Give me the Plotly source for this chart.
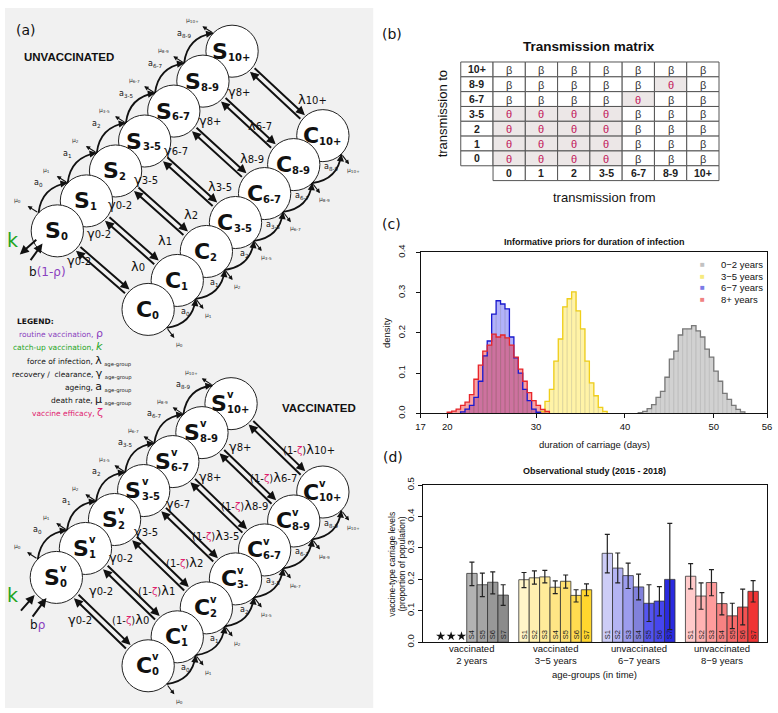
import math
import plotly.graph_objects as go

W, H = 778, 713

# ---------------- DATA ----------------
# (a) compartment model labels
ages = ["0", "1", "2", "3-5", "6-7", "8-9", "10+"]
ages_cv = ["0", "1", "2", "3-", "6-7", "8-9", "10+"]
ageing_subs = ["0", "1", "2", "3-5", "6-7", "8-9"]
gamma_subs = ["0-2", "0-2", "0-2", "3-5", "6-7", "8+", "8+"]
lambda_subs = ["0", "1", "2", "3-5", "8-9", "6-7", "10+"]

# (b) transmission matrix
row_ages = ["10+", "8-9", "6-7", "3-5", "2", "1", "0"]
col_ages = ["0", "1", "2", "3-5", "6-7", "8-9", "10+"]
matrix = [
    ["β", "β", "β", "β", "β", "β", "β"],
    ["β", "β", "β", "β", "β", "θ", "β"],
    ["β", "β", "β", "β", "θ", "β", "β"],
    ["θ", "θ", "θ", "θ", "β", "β", "β"],
    ["θ", "θ", "θ", "θ", "β", "β", "β"],
    ["θ", "θ", "θ", "θ", "β", "β", "β"],
    ["θ", "θ", "θ", "θ", "β", "β", "β"],
]

# (c) informative priors (density per 0.5-day bin)
bin_width = 0.5
prior_labels = ["0−2 years", "3−5 years", "6−7 years", "8+ years"]
gray_start = 41.5
gray_density = [0.002, 0.005, 0.012, 0.022, 0.040, 0.055, 0.090, 0.135, 0.155, 0.195, 0.210, 0.210,
                0.218, 0.205, 0.190, 0.160, 0.140, 0.105, 0.080, 0.050, 0.035, 0.020, 0.010, 0.004]
yellow_start = 30.5
yellow_density = [0.005, 0.030, 0.060, 0.130, 0.185, 0.265, 0.285, 0.302, 0.255, 0.210, 0.130,
                  0.076, 0.044, 0.015, 0.005]
blue_start = 21.5
blue_density = [0.004, 0.011, 0.020, 0.040, 0.080, 0.143, 0.180, 0.247, 0.280, 0.272, 0.260, 0.190,
                0.138, 0.100, 0.060, 0.032, 0.011, 0.003]
red_start = 20.0
red_density = [0.003, 0.006, 0.011, 0.020, 0.028, 0.047, 0.085, 0.120, 0.155, 0.170, 0.197, 0.190,
               0.195, 0.188, 0.170, 0.140, 0.110, 0.080, 0.052, 0.032, 0.020, 0.010, 0.005]

# (d) observational study
group_labels = ["vaccinated<br>2 years", "vaccinated<br>3−5 years",
                "unvaccinated<br>6−7 years", "unvaccinated<br>8−9 years"]
survey_labels = ["S1", "S2", "S3", "S4", "S5", "S6", "S7"]
carriage = [
    [None, None, None, 0.219, 0.183, 0.191, 0.150],
    [0.199, 0.205, 0.208, 0.175, 0.194, 0.149, 0.167],
    [0.283, 0.236, 0.212, 0.176, 0.124, 0.131, 0.200],
    [0.210, 0.147, 0.190, 0.123, 0.084, 0.112, 0.162],
]
ci_low = [
    [None, None, None, 0.180, 0.145, 0.154, 0.117],
    [0.174, 0.185, 0.189, 0.155, 0.172, 0.128, 0.148],
    [0.221, 0.189, 0.171, 0.135, 0.066, 0.084, 0.040],
    [0.170, 0.105, 0.148, 0.087, 0.043, 0.055, 0.128],
]
ci_high = [
    [None, None, None, 0.255, 0.220, 0.224, 0.183],
    [0.222, 0.227, 0.229, 0.195, 0.214, 0.167, 0.186],
    [0.343, 0.284, 0.252, 0.217, 0.183, 0.177, 0.378],
    [0.250, 0.189, 0.231, 0.158, 0.124, 0.169, 0.196],
]
bar_colors = [
    ["#d9d9d9", "#cccccc", "#bfbfbf", "#b2b2b2", "#a5a5a5", "#989898", "#8b8b8b"],
    ["#fff5c8", "#fff0b0", "#ffeb9a", "#ffe585", "#ffe070", "#ffdb50", "#ffd62e"],
    ["#cdcdf7", "#b4b4f3", "#9c9cee", "#8181dc", "#5555f0", "#4646ee", "#2a2ae0"],
    ["#ffcaca", "#ffb3b3", "#ff9c9c", "#f78282", "#f76a6a", "#f45252", "#f03434"],
]

# ---------------- helpers ----------------
DF = "DejaVu Sans"
RF = "Liberation Sans"
shapes, annots = [], []


def X(x):
    return x / W


def Y(y):
    return 1 - y / H


def unit(vx, vy):
    l = math.hypot(vx, vy)
    return vx / l, vy / l


def text(x, y, s, size=10, color="#111", family=DF, xanchor="center", yanchor="middle", angle=0,
         xref="paper"):
    annots.append(dict(x=X(x) if xref == "paper" else x, y=Y(y), xref=xref, yref="paper", text=s,
                       showarrow=False, font=dict(size=size, color=color, family=family),
                       xanchor=xanchor, yanchor=yanchor, textangle=angle))


def arrow(x0, y0, x1, y1, width=1.8, size=1.0, head=2, color="#111"):
    annots.append(dict(x=X(x1), y=Y(y1), xref="paper", yref="paper", ax=x0 - x1, ay=y0 - y1,
                       axref="pixel", ayref="pixel", text="", showarrow=True, arrowhead=head,
                       arrowsize=size, arrowwidth=width, arrowcolor=color, standoff=0,
                       startstandoff=0))


def circle(cx, cy, r=26.5):
    shapes.append(dict(type="circle", xref="paper", yref="paper", x0=X(cx - r), x1=X(cx + r),
                       y0=Y(cy + r), y1=Y(cy - r), line=dict(color="#222", width=1),
                       fillcolor="white", layer="above"))


def curve(p0, c, p1, width=1.8):
    shapes.append(dict(type="path", xref="paper", yref="paper",
                       path=f"M {X(p0[0])},{Y(p0[1])} Q {X(c[0])},{Y(c[1])} {X(p1[0])},{Y(p1[1])}",
                       line=dict(color="#111", width=width), layer="above"))


def rect(x0, y0, x1, y1, fill="white", line="#555", width=1, layer="above"):
    shapes.append(dict(type="rect", xref="paper", yref="paper", x0=X(x0), x1=X(x1), y0=Y(y1),
                       y1=Y(y0), fillcolor=fill, line=dict(color=line, width=width), layer=layer))


def comp_label(cx, cy, letter, sub, vacc):
    lw = 15.8 if letter == "S" else 16.2
    sw = sum(7.0 if ch.isdigit() else (4.2 if ch == "-" else 8.4) for ch in sub)
    tw = lw + max(sw, 7 if vacc else 0)
    xr = cx - tw / 2 + lw
    text(xr + 1, cy, f"<b>{letter}</b>", size=22, xanchor="right")
    text(xr - 2.5, cy + 6, f"<b>{sub}</b>", size=10, xanchor="left")
    if vacc:
        text(xr - 2.5, cy - 9, "<b>v</b>", size=10, xanchor="left")


# ---------------- (a) diagram ----------------
rect(0, 0, 373, 713, fill="#f1f1f1", line="rgba(0,0,0,0)", width=0, layer="below")

R = 26.5


def chain(P, kind):
    d = unit(P[1][0] - P[0][0], P[1][1] - P[0][1])
    if kind == "S":
        n = (d[1], -d[0])   # up-left
        ang, mu_dist = 12, 25
    else:
        n = (-d[1], d[0])   # down-right
        ang, mu_dist = 8, 21
    Q = [(p[0] + R * n[0], p[1] + R * n[1]) for p in P]
    for i in range(6):
        st, en = Q[i], Q[i + 1]
        mid = ((st[0] + en[0]) / 2, (st[1] + en[1]) / 2)
        ctrl = (mid[0] + 16 * n[0], mid[1] + 16 * n[1])
        curve(st, ctrl, en)
        t = unit(en[0] - ctrl[0], en[1] - ctrl[1])
        arrow(en[0] - 5 * t[0], en[1] - 5 * t[1], en[0], en[1], width=1.6, size=0.9)
        if kind == "S":
            lab = (mid[0] + 21 * n[0], mid[1] + 21 * n[1])
        else:
            lab = (mid[0] + 4 * d[0] + 2 * n[0], mid[1] + 4 * d[1] + 2 * n[1])
        text(lab[0], lab[1], f"a<sub>{ageing_subs[i]}</sub>", size=8)
    ca, sa = math.cos(math.radians(ang)), math.sin(math.radians(ang))
    rot = (ca * n[0] - sa * d[0], ca * n[1] - sa * d[1])
    for j in range(7):
        base = Q[j]
        tip = (base[0] + 13 * rot[0], base[1] + 13 * rot[1])
        arrow(base[0], base[1], tip[0], tip[1], width=1.1, size=0.8)
        text(base[0] + mu_dist * rot[0], base[1] + mu_dist * rot[1], f"μ<sub>{ages[j]}</sub>",
             size=6, color="#333")


def block(S0, Sstep, C0, Cstep, vacc, gpos, lpos):
    S = [(S0[0] + i * Sstep[0], S0[1] + i * Sstep[1]) for i in range(7)]
    C = [(C0[0] + i * Cstep[0], C0[1] + i * Cstep[1]) for i in range(7)]
    for i in range(6, -1, -1):
        circle(*S[i])
    for i in range(6, -1, -1):
        circle(*C[i])
    for i in range(7):
        ux, uy = unit(C[i][0] - S[i][0], C[i][1] - S[i][1])
        qx, qy = uy, -ux
        o = 2.8
        a = (S[i][0] + (R + 1) * ux, S[i][1] + (R + 1) * uy)
        b = (C[i][0] - (R + 1) * ux, C[i][1] - (R + 1) * uy)
        arrow(a[0] + o * qx, a[1] + o * qy, b[0] + o * qx, b[1] + o * qy, width=2, size=0.9)
        arrow(b[0] - o * qx, b[1] - o * qy, a[0] - o * qx, a[1] - o * qy, width=2, size=0.9)
    chain(S, "S")
    chain(C, "C")
    for i in range(7):
        comp_label(S[i][0], S[i][1], "S", ages[i], vacc)
        comp_label(C[i][0], C[i][1], "C", (ages_cv if vacc else ages)[i], vacc)
    for i in range(7):
        text(gpos[i][0], gpos[i][1], f"γ<span style='font-size:10px'>{gamma_subs[i]}</span>", size=13)
        lam = f"λ<span style='font-size:10px'>{lambda_subs[i]}</span>"
        if vacc:
            lam = "<span style='font-size:10px'>(1-<span style='color:#e0206e'>ζ</span>)</span>" + lam
        text(lpos[i][0], lpos[i][1], lam, size=13)


block((53, 227), (29.5, -30.5), (145, 307), (29.5, -29.5), False,
      [(75, 257), (95, 230), (117, 200), (143, 175), (173, 145), (208, 115), (237, 85)],
      [(135, 263), (162, 237), (188, 210), (218, 182), (250, 153), (258, 120), (312, 93)])
block((52, 580), (29.5, -29.5), (145, 670), (29.5, -29.5), True,
      [(76, 623), (97, 593), (118, 560), (143, 533), (175, 505), (208, 477), (238, 447)],
      [(127, 623), (153, 593), (182, 565), (213, 537), (243, 507), (272, 478), (308, 450)])

text(65, 50, "<b>UNVACCINATED</b>", size=11.5, family=RF)
text(318, 407, "<b>VACCINATED</b>", size=11.5, family=RF)

# vaccination arrows
arrow(33, 235, 15, 251, width=2, size=0.9)
arrow(25, 258, 38, 240, width=2, size=0.9)
text(8, 236, "k", size=19, color="#1fa51f")
text(43, 269, "b<span style='color:#8b3fbf'>(1-ρ)</span>", size=12)
arrow(15, 615, 30, 598, width=2, size=0.9)
arrow(27, 621, 42, 601, width=2, size=0.9)
text(8, 598, "k", size=19, color="#1fa51f")
text(33, 628, "b<span style='color:#8b3fbf'>ρ</span>", size=12)

# legend
text(10, 319, "<b>LEGEND:</b>", size=7.5, xanchor="left")
text(101, 332, "routine vaccination, <span style='font-size:11px'>ρ</span>", size=7.5,
     color="#8b3fbf", xanchor="right")
text(101, 345, "catch-up vaccination, <span style='font-size:11px'><i>k</i></span>", size=7.5,
     color="#1fa51f", xanchor="right")
text(131, 360, "force of infection, <span style='font-size:11px'>λ</span> <sub>age-group</sub>",
     size=7.5, xanchor="right")
text(131, 373, "recovery /  clearance, <span style='font-size:11px'>γ</span> <sub>age-group</sub>",
     size=7.5, xanchor="right")
text(131, 386, "ageing, <span style='font-size:11px'>a</span> <sub>age-group</sub>",
     size=7.5, xanchor="right")
text(131, 399, "death rate, <span style='font-size:11px'>μ</span> <sub>age-group</sub>",
     size=7.5, xanchor="right")
text(101, 412, "vaccine efficacy, <span style='font-size:11px'>ζ</span>", size=7.5,
     color="#e0206e", xanchor="right")

# panel letters
text(21, 22, "(a)", size=14)
text(392, 26, "(b)", size=14)
text(392, 220, "(c)", size=14)
text(393, 457, "(d)", size=14)

# ---------------- (b) table ----------------
tx0, cw, ty0, rh = 461.7, 32.7, 55.0, 15.1
for ri, rl in enumerate(row_ages):
    y0 = ty0 + ri * rh
    rect(tx0, y0, tx0 + cw, y0 + rh)
    text(tx0 + cw / 2, y0 + rh / 2, f"<b>{rl}</b>", size=10.5, family=RF, color="#222")
    for ci in range(len(col_ages)):
        x0 = tx0 + (ci + 1) * cw
        sym = matrix[ri][ci]
        rect(x0, y0, x0 + cw, y0 + rh, fill="#ece7e7" if sym == "θ" else "white")
        text(x0 + cw / 2, y0 + rh / 2 + 0.5, sym, size=11, family=RF,
             color="#c2185b" if sym == "θ" else "#333")
yb = ty0 + len(row_ages) * rh
for ci, cl in enumerate(col_ages):
    x0 = tx0 + (ci + 1) * cw
    rect(x0, yb, x0 + cw, yb + rh)
    text(x0 + cw / 2, yb + rh / 2, f"<b>{cl}</b>", size=10.5, family=RF, color="#222")
text(592, 39, "<b>Transmission matrix</b>", size=13.5, family=RF)
text(443, 108, "transmission to", size=13, family=RF, angle=-90)
text(607, 193, "transmission from", size=13, family=RF)

# ---------------- (c) histograms ----------------
fig = go.Figure()
hist_specs = [
    (gray_start, gray_density, "rgba(185,185,185,0.65)", "#7a7a7a"),
    (yellow_start, yellow_density, "rgba(255,228,60,0.45)", "#f0cf1a"),
    (blue_start, blue_density, "rgba(20,20,240,0.33)", "#1a1ad0"),
    (red_start, red_density, "rgba(250,10,10,0.38)", "#e8262b"),
]
for start, dens, fill, edge in hist_specs:
    centers = [start + bin_width * (k + 0.5) for k in range(len(dens))]
    fig.add_trace(go.Bar(x=centers, y=dens, width=bin_width, xaxis="x", yaxis="y",
                         marker=dict(color=fill, line=dict(color="rgba(120,120,120,0.25)", width=0.6)),
                         showlegend=False, hoverinfo="skip"))
for start, dens, fill, edge in hist_specs:
    xs = [start, start] + [start + bin_width * k for k in range(1, len(dens))] + [start + bin_width * len(dens)]
    ys = [0] + list(dens) + [0]
    fig.add_trace(go.Scatter(x=xs, y=ys, mode="lines", line=dict(shape="hv", color=edge, width=1.3),
                             xaxis="x", yaxis="y", showlegend=False, hoverinfo="skip"))

legend_cols = ["#c2c2c2", "#f6ea7e", "#7b7be6", "#f08282"]
for k, (lab, col) in enumerate(zip(prior_labels, legend_cols)):
    yy = 261 + 12 * k
    text(707, yy, "■", size=8, color=col, family=RF)
    text(723, yy, lab, size=9.5, family=RF, xanchor="left", color="#111")

text(597, 238, "<b>Informative priors for duration of infection</b>", size=9, family=RF)
text(387, 331, "density", size=9.5, family=RF, angle=-90)
text(597, 445, "duration of carriage (days)", size=9.5, family=RF)

# ---------------- (d) bars ----------------
for g in range(4):
    xs, ys, up, dn, cols, labs = [], [], [], [], [], []
    for j in range(7):
        v = carriage[g][j]
        if v is None:
            continue
        xs.append(g * 8 + j)
        ys.append(v)
        up.append(ci_high[g][j] - v)
        dn.append(v - ci_low[g][j])
        cols.append(bar_colors[g][j])
        labs.append(survey_labels[j])
    fig.add_trace(go.Bar(x=xs, y=ys, width=1.0, xaxis="x2", yaxis="y2",
                         marker=dict(color=cols, line=dict(color="#333", width=0.8)),
                         text=labs, textposition="inside", insidetextanchor="start", textangle=-90,
                         constraintext="none",
                         textfont=dict(size=7.5, color="#222", family=RF),
                         error_y=dict(type="data", symmetric=False, array=up, arrayminus=dn,
                                      color="#222", thickness=1.2, width=2.5),
                         showlegend=False, hoverinfo="skip"))
missing_x = [g * 8 + j for g in range(4) for j in range(7) if carriage[g][j] is None]
fig.add_trace(go.Scatter(x=missing_x, y=[0.019] * len(missing_x), mode="markers", xaxis="x2", yaxis="y2",
                         marker=dict(symbol="star", size=7, color="#111"), showlegend=False,
                         hoverinfo="skip"))
for g, gl in enumerate(group_labels):
    text(g * 8 + 3, 659, gl, size=9.5, family=RF, xref="x2")

text(597, 472, "<b>Observational study (2015 - 2018)</b>", size=9, family=RF)
text(392, 566, "vaccine-type carriage levels", size=8.5, family=RF, angle=-90)
text(402, 566, "(proportion of population)", size=8.5, family=RF, angle=-90)
text(597, 679, "age-groups (in time)", size=9.5, family=RF)

axis_common = dict(showgrid=False, zeroline=False, showline=True, mirror=True, linecolor="#111",
                   linewidth=1, tickfont=dict(family=RF, size=9.5, color="#111"))

fig.update_layout(
    width=W, height=H, margin=dict(l=0, r=0, t=0, b=0),
    paper_bgcolor="white", plot_bgcolor="white", barmode="overlay", showlegend=False,
    xaxis=dict(domain=[421 / W, 772 / W], range=[17, 56], tickvals=[17, 20, 30, 40, 50, 56],
               ticks="outside", ticklen=4, tickcolor="#111", anchor="y", **axis_common),
    yaxis=dict(domain=[1 - 413 / H, 1 - 249 / H], range=[0, 0.4], tickvals=[0, 0.1, 0.2, 0.3, 0.4],
               ticktext=["0.0", "0.1", "0.2", "0.3", "0.4"], tickangle=-90, ticks="outside",
               ticklen=4, tickcolor="#111", anchor="x", ticklabelstandoff=7, **axis_common),
    xaxis2=dict(domain=[423 / W, 772 / W], range=[-1.74, 31.34], showticklabels=False,
                ticks="", anchor="y2", **axis_common),
    yaxis2=dict(domain=[1 - 646 / H, 1 - 486 / H], range=[0, 0.5],
                tickvals=[0, 0.1, 0.2, 0.3, 0.4, 0.5],
                ticktext=["0.0", "0.1", "0.2", "0.3", "0.4", "0.5"], tickangle=-90, ticks="outside",
                ticklen=4, tickcolor="#111", anchor="x2", **axis_common),
    shapes=shapes, annotations=annots,
)

fig.write_html("out.html", config={"displayModeBar": False},
               post_script="document.body.style.margin='0';document.body.style.overflow='hidden';")
